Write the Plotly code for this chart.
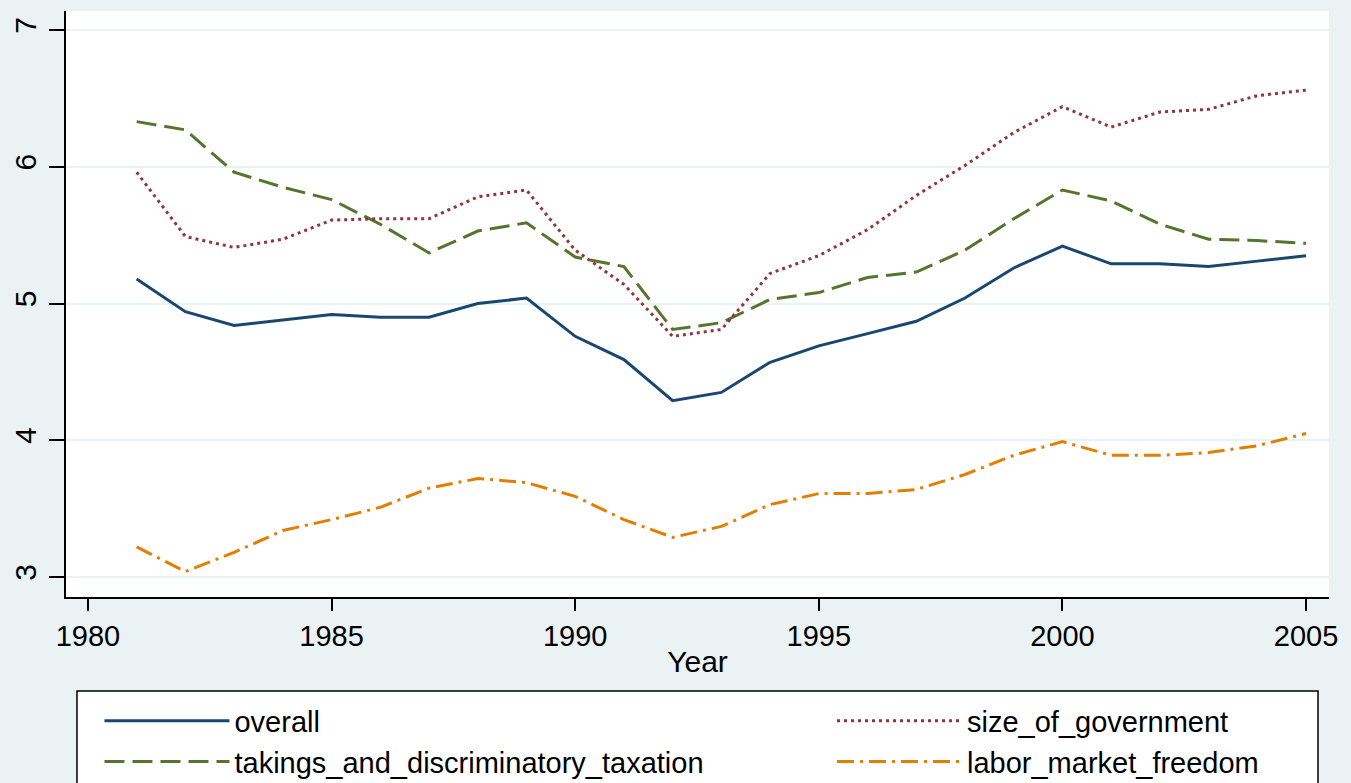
import plotly.graph_objects as go

years = list(range(1981, 2006))
overall = [5.18, 4.94, 4.84, 4.88, 4.92, 4.90, 4.90, 5.00, 5.04, 4.76,
           4.59, 4.29, 4.35, 4.57, 4.69, 4.78, 4.87, 5.04, 5.26, 5.42,
           5.29, 5.29, 5.27, 5.31, 5.35]
size_of_government = [5.96, 5.49, 5.41, 5.47, 5.61, 5.62, 5.62, 5.78, 5.83, 5.39,
                      5.14, 4.76, 4.81, 5.22, 5.35, 5.54, 5.79, 6.01, 6.25, 6.44,
                      6.29, 6.40, 6.42, 6.52, 6.56]
takings = [6.33, 6.27, 5.96, 5.85, 5.76, 5.58, 5.37, 5.53, 5.59, 5.34,
           5.27, 4.81, 4.86, 5.03, 5.08, 5.19, 5.23, 5.39, 5.62, 5.83,
           5.75, 5.58, 5.47, 5.46, 5.44]
labor = [3.22, 3.04, 3.18, 3.34, 3.42, 3.51, 3.65, 3.72, 3.69, 3.59,
         3.42, 3.29, 3.37, 3.53, 3.61, 3.61, 3.64, 3.75, 3.89, 3.99,
         3.89, 3.89, 3.91, 3.96, 4.05]

x_ticks = [1980, 1985, 1990, 1995, 2000, 2005]
y_ticks = [3, 4, 5, 6, 7]

FONT = "Liberation Sans, Arial, sans-serif"
BG = "#eaf2f3"

fig = go.Figure()
fig.add_trace(go.Scatter(x=years, y=overall, mode="lines", name="overall",
                         line=dict(color="#1a476f", width=3), legend="legend"))
fig.add_trace(go.Scatter(x=years, y=takings, mode="lines",
                         name="takings_and_discriminatory_taxation",
                         line=dict(color="#55752f", width=3, dash="20px,8px"),
                         legend="legend"))
fig.add_trace(go.Scatter(x=years, y=size_of_government, mode="lines",
                         name="size_of_government",
                         line=dict(color="#90353b", width=3, dash="3px,4px"),
                         legend="legend2"))
fig.add_trace(go.Scatter(x=years, y=labor, mode="lines",
                         name="labor_market_freedom",
                         line=dict(color="#e37e00", width=3, dash="17px,6px,3px,6px"),
                         legend="legend2"))

legend_common = dict(font=dict(family=FONT, size=29, color="black"),
                     bgcolor="rgba(0,0,0,0)", borderwidth=0,
                     orientation="v", xanchor="left", yanchor="top",
                     itemwidth=125, itemclick=False, itemdoubleclick=False)

fig.update_layout(
    width=1351, height=783,
    paper_bgcolor=BG, plot_bgcolor="white",
    margin=dict(l=66, r=22, t=11, b=186, autoexpand=False),
    font=dict(family=FONT, size=30, color="black"),
    showlegend=True,
    legend=dict(x=0.0265, y=-0.168, **legend_common),
    legend2=dict(x=0.6065, y=-0.168, **legend_common),
    xaxis=dict(range=[1979.55, 2005.47], tickvals=x_ticks, showgrid=False,
               zeroline=False, showline=True, linecolor="black", linewidth=1.5,
               ticks="outside", ticklen=12, tickwidth=1.5, tickcolor="black",
               tickfont=dict(size=29), automargin=False,
               title=dict(text="Year", font=dict(size=30), standoff=0)),
    yaxis=dict(range=[2.854, 7.139], tickvals=y_ticks, showgrid=True,
               gridcolor=BG, gridwidth=2, zeroline=False, showline=True,
               linecolor="black", linewidth=1.5, ticks="outside", ticklen=15,
               tickwidth=1.5, tickcolor="black", tickangle=-90,
               tickfont=dict(size=30), ticklabelstandoff=1, automargin=False),
    shapes=[dict(type="rect", xref="paper", yref="paper",
                 x0=0.0087, x1=0.9913, y0=-0.36, y1=-0.1604,
                 line=dict(color="black", width=1.5), fillcolor="white",
                 layer="below")],
)

fig.write_html("out.html",
               config={"displayModeBar": False},
               post_script="document.body.style.margin='0';"
                           "document.body.style.overflow='hidden';")
